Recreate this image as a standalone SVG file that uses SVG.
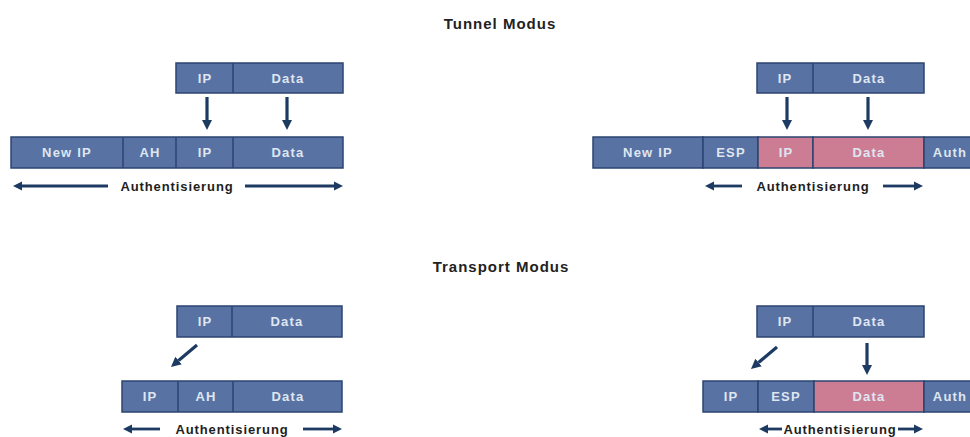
<svg xmlns="http://www.w3.org/2000/svg" width="970" height="437" viewBox="0 0 970 437">
<defs>
<style>
.b{fill:#5872a3;stroke:#2b4470;stroke-width:1.5}
.p{fill:#cc7d94;stroke:#2b4470;stroke-width:1.5}
.d{stroke:#2b4470;stroke-width:1.5}
.l{font-family:"Liberation Sans",Arial,sans-serif;font-weight:bold;font-size:13px;letter-spacing:1.2px;fill:#dfe6f1;text-anchor:middle}
.t{font-family:"Liberation Sans",Arial,sans-serif;font-weight:bold;font-size:15px;letter-spacing:1px;fill:#222;text-anchor:middle}
.a{font-family:"Liberation Sans",Arial,sans-serif;font-weight:bold;font-size:13px;letter-spacing:0.9px;fill:#1e1e1e;text-anchor:middle}
.c{stroke:#1d3a63;stroke-width:3.2;fill:none}
.c2{stroke:#1d3a63;stroke-width:2.8;fill:none}
</style>
<marker id="ah" viewBox="0 0 10 10" markerUnits="userSpaceOnUse" markerWidth="10" markerHeight="13" refX="0" refY="5" orient="auto"><path d="M0,0 L10,5 L0,10 z" fill="#1d3a63"/></marker>
<marker id="as" viewBox="0 0 10 10" markerUnits="userSpaceOnUse" markerWidth="9" markerHeight="10" refX="0" refY="5" orient="auto"><path d="M0,0 L10,5 L0,10 z" fill="#1d3a63"/></marker>
</defs>
<rect width="970" height="437" fill="#ffffff"/>

<g id="title-tunnel"><text class="t" x="500" y="29">Tunnel Modus</text></g>
<g id="title-transport"><text class="t" x="501" y="272">Transport Modus</text></g>

<g id="tunnel-ah-orig">
<rect class="b" x="176" y="63" width="167" height="30"/>
<line class="d" x1="233" y1="63" x2="233" y2="93"/>
<text class="l" x="205" y="82.5">IP</text>
<text class="l" x="288" y="82.5">Data</text>
</g>
<g id="tunnel-ah-packet">
<rect class="b" x="11" y="137" width="332" height="31"/>
<line class="d" x1="123" y1="137" x2="123" y2="168"/>
<line class="d" x1="176" y1="137" x2="176" y2="168"/>
<line class="d" x1="233" y1="137" x2="233" y2="168"/>
<text class="l" x="67" y="157">New IP</text>
<text class="l" x="150" y="157">AH</text>
<text class="l" x="205" y="157">IP</text>
<text class="l" x="288" y="157">Data</text>
</g>
<g id="tunnel-ah-auth"><text class="a" x="177" y="190.5">Authentisierung</text></g>

<g id="tunnel-esp-orig">
<rect class="b" x="757" y="63" width="167" height="30"/>
<line class="d" x1="813" y1="63" x2="813" y2="93"/>
<text class="l" x="785" y="82.5">IP</text>
<text class="l" x="869" y="82.5">Data</text>
</g>
<g id="tunnel-esp-packet">
<rect class="b" x="593" y="137" width="110" height="31"/>
<rect class="b" x="703" y="137" width="55" height="31"/>
<rect class="p" x="758" y="137" width="55" height="31"/>
<rect class="p" x="813" y="137" width="111" height="31"/>
<rect class="b" x="924" y="137" width="52" height="31"/>
<text class="l" x="648" y="157">New IP</text>
<text class="l" x="731" y="157">ESP</text>
<text class="l" x="786" y="157">IP</text>
<text class="l" x="869" y="157">Data</text>
<text class="l" x="950" y="157">Auth</text>
</g>
<g id="tunnel-esp-auth"><text class="a" x="813" y="190.5">Authentisierung</text></g>

<g id="transport-ah-orig">
<rect class="b" x="177" y="306" width="165" height="31"/>
<line class="d" x1="232" y1="306" x2="232" y2="337"/>
<text class="l" x="205" y="326">IP</text>
<text class="l" x="287" y="326">Data</text>
</g>
<g id="transport-ah-packet">
<rect class="b" x="122" y="381" width="220" height="31"/>
<line class="d" x1="178" y1="381" x2="178" y2="412"/>
<line class="d" x1="233" y1="381" x2="233" y2="412"/>
<text class="l" x="150" y="401">IP</text>
<text class="l" x="206" y="401">AH</text>
<text class="l" x="288" y="401">Data</text>
</g>
<g id="transport-ah-auth"><text class="a" x="232" y="433.5">Authentisierung</text></g>

<g id="transport-esp-orig">
<rect class="b" x="757" y="306" width="167" height="31"/>
<line class="d" x1="813" y1="306" x2="813" y2="337"/>
<text class="l" x="785" y="326">IP</text>
<text class="l" x="869" y="326">Data</text>
</g>
<g id="transport-esp-packet">
<rect class="b" x="703" y="381" width="55" height="31"/>
<rect class="b" x="758" y="381" width="56" height="31"/>
<rect class="p" x="814" y="381" width="110" height="31"/>
<rect class="b" x="924" y="381" width="52" height="31"/>
<text class="l" x="731" y="401">IP</text>
<text class="l" x="786" y="401">ESP</text>
<text class="l" x="869" y="401">Data</text>
<text class="l" x="950" y="401">Auth</text>
</g>
<g id="transport-esp-auth"><text class="a" x="840" y="433.5">Authentisierung</text></g>

<g id="connectors">
<line class="c" x1="207" y1="97" x2="207" y2="120" marker-end="url(#ah)"/>
<line class="c" x1="287" y1="97" x2="287" y2="120" marker-end="url(#ah)"/>
<line class="c" x1="787" y1="97" x2="787" y2="120" marker-end="url(#ah)"/>
<line class="c" x1="868" y1="97" x2="868" y2="120" marker-end="url(#ah)"/>
<line class="c" x1="197" y1="345" x2="178.6" y2="360.5" marker-end="url(#ah)"/>
<line class="c" x1="777" y1="347" x2="758.6" y2="362.5" marker-end="url(#ah)"/>
<line class="c" x1="867" y1="343" x2="867" y2="365" marker-end="url(#ah)"/>

<line class="c2" x1="108" y1="186" x2="22" y2="186" marker-end="url(#as)"/>
<line class="c2" x1="245" y1="186" x2="334" y2="186" marker-end="url(#as)"/>
<line class="c2" x1="742" y1="186" x2="714" y2="186" marker-end="url(#as)"/>
<line class="c2" x1="883" y1="186" x2="914" y2="186" marker-end="url(#as)"/>
<line class="c2" x1="160" y1="429" x2="132" y2="429" marker-end="url(#as)"/>
<line class="c2" x1="303" y1="429" x2="333" y2="429" marker-end="url(#as)"/>
<line class="c2" x1="782" y1="429" x2="768" y2="429" marker-end="url(#as)"/>
<line class="c2" x1="898" y1="429" x2="914" y2="429" marker-end="url(#as)"/>
</g>
</svg>
